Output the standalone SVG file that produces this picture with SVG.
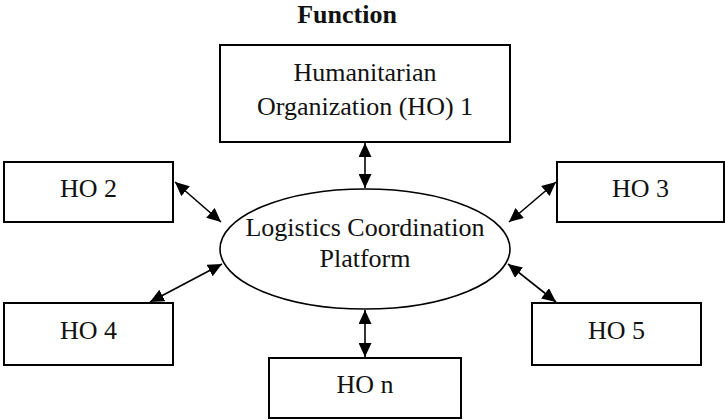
<svg xmlns="http://www.w3.org/2000/svg" width="725" height="420" viewBox="0 0 725 420">
  <style>
    .box { fill: #fff; stroke: #000; stroke-width: 2; }
    .hub { fill: #fff; stroke: #000; stroke-width: 1.6; }
    .lbl { font-family: "Liberation Serif", "Times New Roman", serif; font-size: 26px; fill: #111; text-anchor: middle; }
    .title { font-weight: bold; }
    .link { stroke: #000; stroke-width: 1.6; fill: none; marker-start: url(#head); marker-end: url(#head); }
  </style>
  <defs>
    <marker id="head" viewBox="0 0 14 13" refX="14" refY="6.5" markerWidth="14" markerHeight="13" markerUnits="userSpaceOnUse" orient="auto-start-reverse">
      <path d="M0,0 L14,6.5 L0,13 Z" fill="#000"/>
    </marker>
  </defs>

  <text class="lbl title" x="347" y="23">Function</text>

  <g id="connectors">
    <line class="link" x1="365" y1="143" x2="365" y2="188"/>
    <line class="link" x1="175" y1="182" x2="221" y2="222"/>
    <line class="link" x1="556" y1="182" x2="509" y2="222"/>
    <line class="link" x1="150" y1="302" x2="222" y2="264"/>
    <line class="link" x1="508" y1="264" x2="556" y2="302"/>
    <line class="link" x1="365" y1="310" x2="365" y2="357"/>
  </g>

  <g id="platform">
    <ellipse class="hub" cx="365" cy="249" rx="145" ry="60"/>
    <text class="lbl" x="365" y="236">Logistics Coordination</text>
    <text class="lbl" x="365" y="267">Platform</text>
  </g>

  <g id="ho1">
    <rect class="box" x="220" y="45" width="290" height="97"/>
    <text class="lbl" x="365" y="81">Humanitarian</text>
    <text class="lbl" x="365" y="115">Organization (HO) 1</text>
  </g>

  <g id="ho2">
    <rect class="box" x="4" y="162" width="169" height="60"/>
    <text class="lbl" x="88.5" y="197">HO 2</text>
  </g>

  <g id="ho3">
    <rect class="box" x="557" y="162" width="167" height="60"/>
    <text class="lbl" x="640.5" y="197">HO 3</text>
  </g>

  <g id="ho4">
    <rect class="box" x="4" y="303" width="169" height="62"/>
    <text class="lbl" x="88.5" y="339">HO 4</text>
  </g>

  <g id="ho5">
    <rect class="box" x="532" y="303" width="169" height="62"/>
    <text class="lbl" x="616.5" y="339">HO 5</text>
  </g>

  <g id="hon">
    <rect class="box" x="269" y="358" width="192" height="60"/>
    <text class="lbl" x="365" y="393">HO n</text>
  </g>
</svg>
